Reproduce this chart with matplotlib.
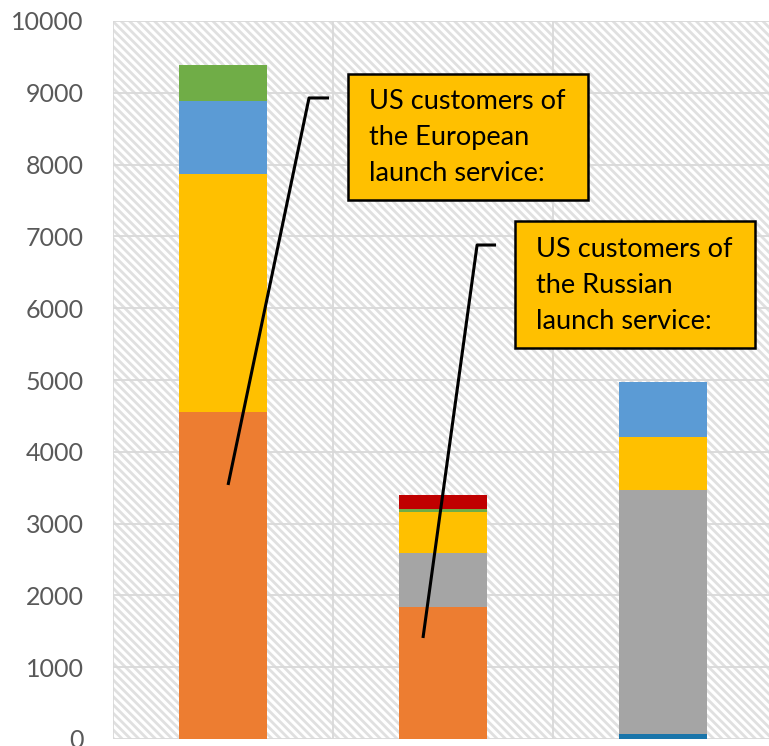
import numpy as np
import matplotlib.pyplot as plt
from matplotlib.patches import Rectangle

plt.rcParams['font.family'] = ['Lato', 'DejaVu Sans']
plt.rcParams['hatch.linewidth'] = 2.0

# Stacked segments per bar (bottom to top)
bars = [0, 1, 2]
dark_blue = [0, 0, 70]
orange = [4555, 1840, 0]
gray = [0, 750, 3400]
yellow = [3315, 577, 742]
blue = [1017, 0, 766]
green = [500, 35, 0]
red = [0, 195, 0]

series = [dark_blue, orange, gray, yellow, blue, green, red]
colors = ['#1A75AA', '#ED7D31', '#A5A5A5', '#FFC000', '#5B9BD5', '#70AD47', '#C00000']

yticks = np.arange(0, 10001, 1000)

fig = plt.figure(figsize=(7.69, 7.46), dpi=100)
ax = fig.add_axes([113 / 769, 7 / 746, 660 / 769, 718 / 746])

# hatched plot background
bg = Rectangle((0, 0), 1, 1, transform=ax.transAxes, facecolor='white',
               edgecolor='#E0E0E0', linewidth=0, hatch='\\\\\\\\', zorder=0)
ax.add_patch(bg)

bottom = np.zeros(3)
for vals, c in zip(series, colors):
    ax.bar(bars, vals, width=0.4, bottom=bottom, color=c, zorder=3)
    bottom += np.array(vals)

ax.set_xlim(-0.5, 2.5)
ax.set_ylim(0, 10000)
ax.set_yticks(yticks)
ax.set_yticklabels([str(v) for v in yticks], fontsize=18, color='#595959')
ax.set_xticks([])
ax.tick_params(axis='y', length=0, pad=21)

for y in yticks:
    ax.axhline(y, color='#D9D9D9', lw=1.3, zorder=1)
for x in [-0.5, 0.5, 1.5, 2.5]:
    ax.axvline(x, color='#D9D9D9', lw=1.3, zorder=1)
for s in ax.spines.values():
    s.set_visible(False)

# callout boxes with leader lines
callouts = [
    ((0.568, 7507), 1.091, 1755, 'US customers of\nthe European\nlaunch service:',
     [0.023, 0.391, 0.482], [3538, 8928, 8928]),
    ((1.327, 5446), 1.091, 1768, 'US customers of\nthe Russian\nlaunch service:',
     [0.909, 1.155, 1.241], [1407, 6880, 6880]),
]
for (x0, y0), w, h, txt, lx, ly in callouts:
    ax.add_patch(Rectangle((x0, y0), w, h, facecolor='#FFC000', edgecolor='black',
                           linewidth=1.8, zorder=5))
    ax.text(x0 + 0.095, y0 + h / 2 - 10, txt, fontsize=19.5, color='black',
            va='center', ha='left', linespacing=1.55, zorder=6)
    ax.plot(lx, ly, color='black', lw=2.2, zorder=4, solid_capstyle='butt')

fig.savefig('out.png', dpi=100)
